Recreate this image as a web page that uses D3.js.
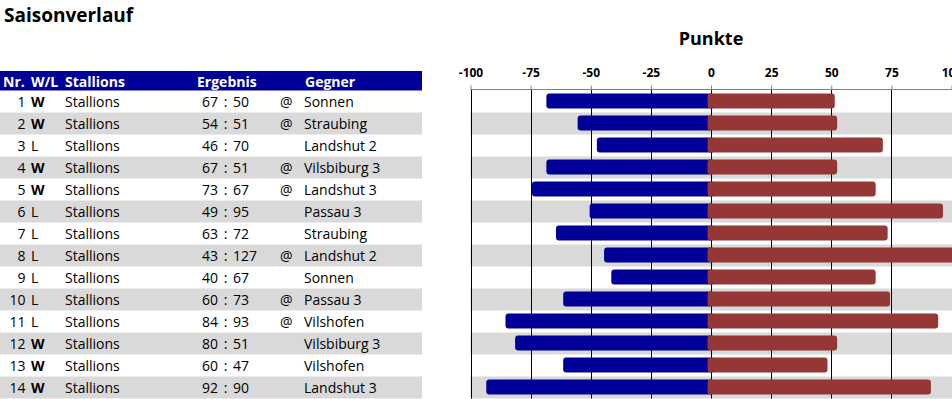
<!DOCTYPE html>
<html>
<head>
<meta charset="utf-8">
<script src="https://cdn.jsdelivr.net/npm/d3@7"></script>
<style>
  html, body { margin: 0; padding: 0; background: #fff; }
  svg { display: block; }
  text { font-family: "Century Gothic", "Open Sans", sans-serif; }
</style>
</head>
<body>
<svg id="chart" width="952" height="399"></svg>
<script>
// ---- data ----
const games     = [1, 2, 3, 4, 5, 6, 7, 8, 9, 10, 11, 12, 13, 14];
const results   = ["W", "W", "L", "W", "W", "L", "L", "L", "L", "L", "L", "W", "W", "W"];
const team      = "Stallions";
const ownPoints = [67, 54, 46, 67, 73, 49, 63, 43, 40, 60, 84, 80, 60, 92];
const oppPoints = [50, 51, 70, 51, 67, 95, 72, 127, 67, 73, 93, 51, 47, 90];
const venue     = ["@", "@", "", "@", "@", "", "", "@", "", "@", "@", "", "", ""];
const opponents = ["Sonnen", "Straubing", "Landshut 2", "Vilsbiburg 3", "Landshut 3", "Passau 3",
                   "Straubing", "Landshut 2", "Sonnen", "Passau 3", "Vilshofen", "Vilsbiburg 3",
                   "Vilshofen", "Landshut 3"];
const headers   = ["Nr.", "W/L", "Stallions", "Ergebnis", "Gegner"];
const tickVals  = [-100, -75, -50, -25, 0, 25, 50, 75, 100];
const title     = "Saisonverlauf";
const axisTitle = "Punkte";

// ---- layout ----
const navy = "#000099", red = "#943735", grey = "#d9d9d9";
const svg = d3.select("#chart");
const rowTop0 = 90.5, rowH = 22;
const tableW = 422;

const y = d3.scaleBand().domain(games).range([rowTop0, rowTop0 + rowH * games.length]).paddingInner(0).paddingOuter(0);
const x = d3.scaleLinear().domain([-100, 100]).range([470.5, 951.5]);

// title
svg.append("text").attr("x", 4).attr("y", 22).attr("font-size", 19).attr("font-weight", "bold")
  .attr("fill", "#000").text(title);

// zebra bands (table part and chart part)
const bands = svg.append("g");
games.forEach((g, i) => {
  if (i % 2 === 1) {
    bands.append("rect").attr("x", 0).attr("y", y(g)).attr("width", tableW).attr("height", y.bandwidth()).attr("fill", grey);
    bands.append("rect").attr("x", x(-100)).attr("y", y(g)).attr("width", 952 - x(-100)).attr("height", y.bandwidth()).attr("fill", grey);
  }
});

// header bar
svg.append("rect").attr("x", 0).attr("y", 71).attr("width", tableW).attr("height", 19.5).attr("fill", navy);
const hdrX = [3, 31, 65, 197, 305];
const hdr = svg.append("g").attr("font-size", 14).attr("font-weight", "bold").attr("fill", "#fff");
headers.forEach((h, i) => hdr.append("text").attr("x", hdrX[i]).attr("y", 86.5).text(h));

// table rows
const rows = svg.append("g").attr("font-size", 14).attr("fill", "#000");
games.forEach((g, i) => {
  const by = y(g) + 16.5;
  rows.append("text").attr("x", 25.5).attr("y", by).attr("text-anchor", "end").text(g);
  rows.append("text").attr("x", 31).attr("y", by).attr("font-weight", results[i] === "W" ? "bold" : "normal").text(results[i]);
  rows.append("text").attr("x", 65).attr("y", by).text(team);
  rows.append("text").attr("x", 218).attr("y", by).attr("text-anchor", "end").text(ownPoints[i]);
  rows.append("text").attr("x", 225.5).attr("y", by).attr("text-anchor", "middle").text(":");
  rows.append("text").attr("x", 233).attr("y", by).text(oppPoints[i]);
  rows.append("text").attr("x", 280).attr("y", by).text(venue[i]);
  rows.append("text").attr("x", 304).attr("y", by).text(opponents[i]);
});

// gridlines
const bottom = rowTop0 + rowH * games.length;
svg.append("g").selectAll("line").data(tickVals).join("line")
  .attr("x1", d => Math.round(x(d)) + 0.5).attr("x2", d => Math.round(x(d)) + 0.5)
  .attr("y1", 89.5).attr("y2", bottom).attr("stroke", "#000").attr("stroke-width", 1);

// axis on top
const axis = d3.axisTop(x).tickValues(tickVals).tickSize(4).tickPadding(9).tickFormat(d => String(d));
const ag = svg.append("g").attr("transform", "translate(0,89.5)").call(axis);
ag.select(".domain").attr("stroke", "#808080").attr("d", `M${x(-100)},0H952`);
ag.selectAll(".tick line").attr("stroke", "#808080");
ag.selectAll(".tick text").attr("font-size", 12).attr("font-weight", "bold").attr("fill", "#000")
  .style("font-family", "\"Century Gothic\", \"Open Sans\", sans-serif");

// axis title
svg.append("text").attr("x", x(0)).attr("y", 45).attr("text-anchor", "middle").attr("font-size", 18)
  .attr("font-weight", "bold").text(axisTitle);

// bars
const ext = 3.5, barInset = 3, barH = 15;
svg.append("defs").append("clipPath").attr("id", "plotclip")
  .append("rect").attr("x", 0).attr("y", 0).attr("width", 952).attr("height", 399);
const barsG = svg.append("g").attr("clip-path", "url(#plotclip)");
barsG.selectAll("rect.own").data(games).join("rect").attr("class", "own")
  .attr("x", (d, i) => x(-ownPoints[i]) - ext)
  .attr("y", d => y(d) + barInset)
  .attr("width", (d, i) => x(0) - x(-ownPoints[i]) + 2 * ext)
  .attr("height", barH).attr("rx", 3).attr("fill", navy);
barsG.selectAll("rect.opp").data(games).join("rect").attr("class", "opp")
  .attr("x", x(0) - ext)
  .attr("y", d => y(d) + barInset)
  .attr("width", (d, i) => x(oppPoints[i]) - x(0) + 2 * ext)
  .attr("height", barH).attr("rx", 3).attr("fill", red);
</script>
</body>
</html>
